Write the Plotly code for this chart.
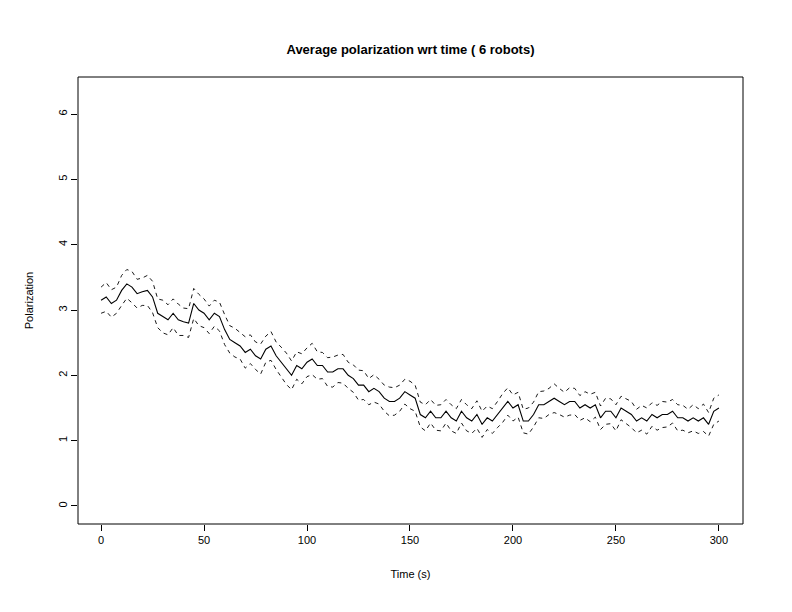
import plotly.graph_objects as go

time = [i * 2.5 for i in range(121)]
mean = [3.15,3.2,3.1,3.15,3.3,3.4,3.35,3.25,3.28,3.3,3.2,2.95,2.9,2.85,2.95,2.85,2.82,2.8,3.1,3.0,
        2.95,2.85,2.95,2.9,2.7,2.55,2.5,2.45,2.35,2.4,2.3,2.25,2.4,2.45,2.3,2.2,2.1,2.0,2.15,2.1,
        2.2,2.25,2.15,2.15,2.05,2.05,2.1,2.1,2.0,1.95,1.85,1.85,1.75,1.8,1.75,1.65,1.6,1.6,1.65,1.75,
        1.7,1.65,1.4,1.35,1.45,1.35,1.35,1.45,1.35,1.3,1.45,1.35,1.3,1.4,1.25,1.35,1.3,1.4,1.5,1.6,
        1.5,1.55,1.3,1.3,1.4,1.55,1.55,1.6,1.65,1.6,1.55,1.6,1.6,1.5,1.55,1.5,1.55,1.35,1.45,1.45,
        1.35,1.5,1.45,1.4,1.3,1.35,1.3,1.4,1.35,1.4,1.4,1.45,1.35,1.35,1.3,1.35,1.3,1.35,1.25,1.45,1.5]
halfwidth = [0.2,0.22,0.21,0.2,0.23,0.22,0.24,0.22,0.21,0.23,0.24,0.22,0.25,0.23,0.22,0.24,0.21,0.22,0.23,0.24,
             0.22,0.21,0.2,0.22,0.23,0.21,0.22,0.2,0.24,0.22,0.21,0.23,0.2,0.22,0.21,0.23,0.24,0.22,0.21,0.23,
             0.22,0.24,0.21,0.2,0.22,0.23,0.21,0.22,0.2,0.21,0.23,0.22,0.2,0.21,0.19,0.2,0.22,0.21,0.2,0.19,
             0.21,0.2,0.19,0.2,0.18,0.19,0.2,0.18,0.2,0.19,0.18,0.2,0.19,0.21,0.2,0.18,0.19,0.2,0.22,0.21,
             0.2,0.19,0.18,0.2,0.19,0.2,0.21,0.2,0.22,0.2,0.19,0.21,0.2,0.19,0.2,0.21,0.19,0.18,0.2,0.19,
             0.2,0.18,0.19,0.2,0.18,0.19,0.2,0.18,0.19,0.2,0.19,0.18,0.2,0.19,0.18,0.2,0.19,0.21,0.18,0.2,0.2]
upper = [m + h for m, h in zip(mean, halfwidth)]
lower = [m - h for m, h in zip(mean, halfwidth)]

fig = go.Figure()
fig.add_trace(go.Scatter(x=time, y=mean, mode="lines", line=dict(color="black", width=1.1)))
for s in (upper, lower):
    fig.add_trace(go.Scatter(x=time, y=s, mode="lines", line=dict(color="black", width=0.9, dash="4px,4px")))

font = dict(family="Liberation Sans, Arial, sans-serif", size=11, color="black")
axis = dict(showgrid=False, zeroline=False, showline=False, ticks="outside", ticklen=6,
            tickcolor="black", tickfont=font, mirror=False)
fig.update_layout(
    width=792, height=612, showlegend=False,
    paper_bgcolor="white", plot_bgcolor="white",
    margin=dict(l=70, r=57, t=69, b=96),
    title=dict(text="<b>Average polarization wrt time ( 6 robots)</b>", x=(70 + 735) / 2 / 792, xanchor="center",
               y=1 - 41 / 612, yanchor="middle",
               font=dict(family="Liberation Sans, Arial, sans-serif", size=13, color="black")),
    xaxis=dict(range=[-11.2, 311.7], tickvals=[0, 50, 100, 150, 200, 250, 300],
               title=dict(text="Time (s)", font=font, standoff=25), **axis),
    yaxis=dict(range=[-0.276, 6.567], tickvals=[0, 1, 2, 3, 4, 5, 6], tickangle=-90,
               title=dict(text="Polarization", font=font, standoff=20), **axis),
    shapes=[dict(type="rect", xref="paper", yref="paper", x0=0, y0=0, x1=1, y1=1,
                 line=dict(color="black", width=1))],
)
fig.write_html("out.html")
